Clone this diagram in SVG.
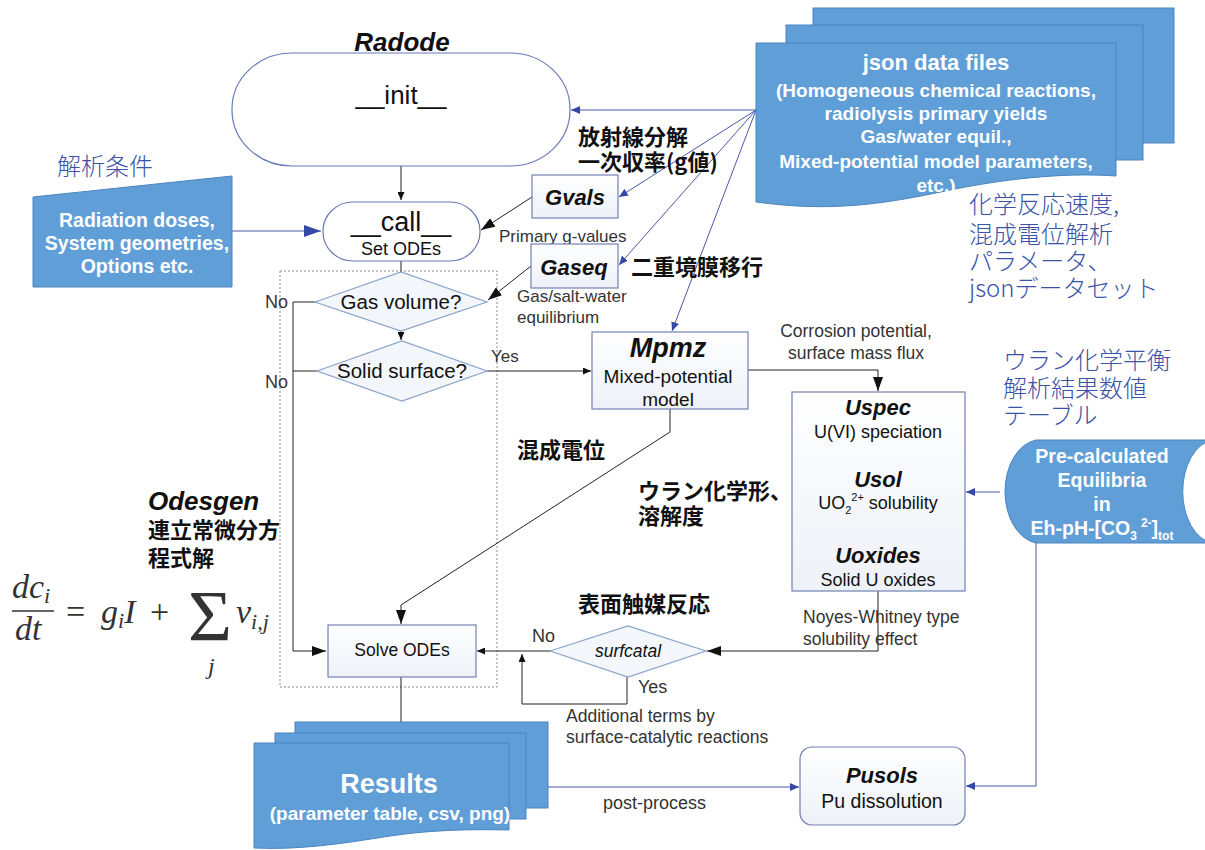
<svg xmlns="http://www.w3.org/2000/svg" width="1205" height="850" viewBox="0 0 1205 850">
<defs>
<linearGradient id="boxFill" x1="0" y1="0" x2="0" y2="1">
<stop offset="0" stop-color="#ffffff"/><stop offset="1" stop-color="#eef1f7"/>
</linearGradient>
<marker id="bigBlack" viewBox="0 0 14 10" refX="14" refY="5" markerWidth="14" markerHeight="10" markerUnits="userSpaceOnUse" orient="auto"><path d="M0,0 L14,5 L0,10 Z" fill="#111"/></marker>
<marker id="smallBlack" viewBox="0 0 8 7" refX="8" refY="3.5" markerWidth="8" markerHeight="7" markerUnits="userSpaceOnUse" orient="auto"><path d="M0,0 L8,3.5 L0,7 Z" fill="#111"/></marker>
<marker id="blueSmall" viewBox="0 0 9 8" refX="9" refY="4" markerWidth="9" markerHeight="8" markerUnits="userSpaceOnUse" orient="auto"><path d="M0,0 L9,4 L0,8 Z" fill="#3548a8"/></marker>
<marker id="blueBig" viewBox="0 0 17 12" refX="17" refY="6" markerWidth="17" markerHeight="12" markerUnits="userSpaceOnUse" orient="auto"><path d="M0,0 L17,6 L0,12 Z" fill="#3548a8"/></marker>
<style>
.sans{font-family:'Liberation Sans',Arial,sans-serif;}
.jblue{font-family:'Noto Sans CJK JP',sans-serif;fill:#3a52a8;font-size:24px;font-weight:300;}
.jblack{font-family:'Noto Sans CJK JP',sans-serif;fill:#111;font-size:22px;font-weight:700;}
.box{fill:url(#boxFill);stroke:#7481b6;stroke-width:1.2;}
.term{fill:#fff;stroke:#6a7ab8;stroke-width:1.2;}
.dia{fill:#f3f6fa;stroke:#8aa3cc;stroke-width:1.2;}
.blueshape{fill:#5f9ed7;stroke:#4a84bf;stroke-width:1;}
.wt{font-family:'Liberation Sans',Arial,sans-serif;fill:#fff;font-weight:700;text-anchor:middle;}
.lbl{font-family:'Liberation Sans',Arial,sans-serif;fill:#333;}
.bi{font-family:'Liberation Sans',Arial,sans-serif;font-weight:700;font-style:italic;fill:#111;text-anchor:middle;}
.mid{text-anchor:middle;}
.k{fill:none;stroke:#222;stroke-width:1;}
.b{fill:none;stroke:#4a59a8;stroke-width:1;}
</style>
</defs>
<rect width="1205" height="850" fill="#fff"/>

<rect id="odesgen-frame" x="280" y="271" width="217" height="416" fill="none" stroke="#888" stroke-width="1" stroke-dasharray="2,2"/>

<g id="connectors">
<path class="k" d="M401,166 V200" marker-end="url(#smallBlack)"/>
<path class="b" d="M232,231 H321" marker-end="url(#blueBig)"/>
<path class="b" d="M756,110 H571" marker-end="url(#blueSmall)"/>
<path class="b" d="M756,110 L619,197" marker-end="url(#blueSmall)"/>
<path class="b" d="M756,110 L619,265" marker-end="url(#blueSmall)"/>
<path class="b" d="M756,110 L672,331" marker-end="url(#blueSmall)"/>
<path class="k" d="M532,197 L481,230" marker-end="url(#bigBlack)"/>
<path class="k" d="M531,266 L488,300" marker-end="url(#bigBlack)"/>
<path class="k" d="M401,261 V272"/>
<path class="k" d="M401,331 V340" marker-end="url(#smallBlack)"/>
<path class="k" d="M315,302 H293 V651 H326" stroke-width="1.5" marker-end="url(#bigBlack)"/>
<path class="k" d="M317,371 H293"/>
<path class="k" d="M487,371 H591" marker-end="url(#smallBlack)"/>
<path class="k" d="M748,370 H878 V391" marker-end="url(#bigBlack)"/>
<path class="k" d="M670,409 V432 L401,605 V624" marker-end="url(#bigBlack)"/>
<path class="b" d="M1000,492 H966" marker-end="url(#blueSmall)"/>
<path class="b" d="M1036,543 V786 H966" marker-end="url(#blueSmall)"/>
<path class="k" d="M878,591 V651 H707" marker-end="url(#bigBlack)"/>
<path class="k" d="M550,651 H477" marker-end="url(#smallBlack)"/>
<path class="k" d="M627,677 V704 H522 V654" marker-end="url(#smallBlack)"/>
<path class="k" d="M401,677 V722"/>
<path class="b" d="M548,787 H799" marker-end="url(#blueSmall)"/>
</g>

<g id="init">
<text class="bi" x="402" y="51" font-size="26">Radode</text>
<rect class="term" x="232" y="53" width="338" height="113" rx="60" ry="56"/>
<text class="sans mid" x="401" y="104" font-size="26" fill="#111">__init__</text>
</g>

<g id="call">
<rect class="term" x="323" y="202" width="157" height="59" rx="30" ry="29"/>
<text class="sans mid" x="401" y="231" font-size="27" fill="#111">__call__</text>
<text class="sans mid" x="401" y="255" font-size="18" fill="#111">Set ODEs</text>
</g>

<g id="conditions">
<text class="jblue" x="57" y="175" font-size="26">解析条件</text>
<polygon class="blueshape" points="33,197 232,176 232,287 33,287"/>
<text class="wt" x="137" y="227" font-size="19.5">Radiation doses,</text>
<text class="wt" x="137" y="250" font-size="19.5">System geometries,</text>
<text class="wt" x="137" y="273" font-size="19.5">Options etc.</text>
</g>

<g id="json">
<rect class="blueshape" x="813" y="8" width="361" height="135"/>
<rect class="blueshape" x="786" y="25" width="357" height="135"/>
<path class="blueshape" d="M756,43 H1116 V176 C1060,172 1000,180 950,190 C880,205 830,212 756,202 Z"/>
<text class="wt" x="936" y="70" font-size="22">json data files</text>
<text class="wt" x="936" y="97" font-size="19">(Homogeneous chemical reactions,</text>
<text class="wt" x="936" y="120" font-size="19">radiolysis primary yields</text>
<text class="wt" x="936" y="143" font-size="19">Gas/water equil.,</text>
<text class="wt" x="936" y="168" font-size="19">Mixed-potential model parameters,</text>
<text class="wt" x="936" y="192" font-size="19">etc.)</text>
<text class="jblue" x="969" y="213">化学反応速度,</text>
<text class="jblue" x="969" y="243">混成電位解析</text>
<text class="jblue" x="969" y="270">パラメータ、</text>
<text class="jblue" x="969" y="297">jsonデータセット</text>
</g>

<g id="gvals">
<rect class="box" x="532" y="175" width="86" height="43"/>
<text class="bi" x="575" y="205" font-size="22">Gvals</text>
<text class="jblack" x="578" y="145">放射線分解</text>
<text class="jblack" x="578" y="170">一次収率(g値)</text>
<text class="lbl" x="499" y="242" font-size="17">Primary g-values</text>
</g>

<g id="gaseq">
<rect class="box" x="531" y="244" width="87" height="44"/>
<text class="bi" x="574" y="275" font-size="22">Gaseq</text>
<text class="jblack" x="631" y="275">二重境膜移行</text>
<text class="lbl" x="517" y="302" font-size="17">Gas/salt-water</text>
<text class="lbl" x="517" y="323" font-size="17">equilibrium</text>
</g>

<g id="gasvolume">
<polygon class="dia" points="315,302 401,272 487,302 401,331"/>
<text class="sans mid" x="401" y="309" font-size="20.5" fill="#111">Gas volume?</text>
<text class="lbl" x="265" y="308" font-size="18">No</text>
</g>

<g id="solidsurface">
<polygon class="dia" points="317,371 402,341 487,371 402,401"/>
<text class="sans mid" x="402" y="378" font-size="20.5" fill="#111">Solid surface?</text>
<text class="lbl" x="265" y="388" font-size="18">No</text>
<text class="lbl" x="491" y="362" font-size="17">Yes</text>
</g>

<g id="mpmz">
<rect class="box" x="592" y="332" width="156" height="77"/>
<text class="bi" x="668" y="357" font-size="27">Mpmz</text>
<text class="sans mid" x="668" y="383" font-size="19" fill="#111">Mixed-potential</text>
<text class="sans mid" x="668" y="406" font-size="19" fill="#111">model</text>
<text class="lbl mid" x="856" y="337" font-size="17.5">Corrosion potential,</text>
<text class="lbl mid" x="856" y="359" font-size="17.5">surface mass flux</text>
<text class="jblack" x="517" y="458" font-weight="500">混成電位</text>
</g>

<g id="uspec">
<rect class="box" x="792" y="392" width="173" height="199"/>
<text class="bi" x="878" y="415" font-size="22">Uspec</text>
<text class="sans mid" x="878" y="438" font-size="18" fill="#111">U(VI) speciation</text>
<text class="bi" x="878" y="487" font-size="22">Usol</text>
<text class="sans mid" x="878" y="509" font-size="18" fill="#111">UO<tspan font-size="11" dy="5">2</tspan><tspan font-size="11" dy="-13">2+</tspan><tspan dy="8"> solubility</tspan></text>
<text class="bi" x="878" y="563" font-size="22">Uoxides</text>
<text class="sans mid" x="878" y="586" font-size="18" fill="#111">Solid U oxides</text>
<text class="jblack" x="638" y="499" font-weight="500">ウラン化学形、</text>
<text class="jblack" x="638" y="524" font-weight="500">溶解度</text>
<text class="lbl" x="803" y="623" font-size="17.5">Noyes-Whitney type</text>
<text class="lbl" x="803" y="645" font-size="17.5">solubility effect</text>
</g>

<g id="precalc">
<text class="jblue" x="1003" y="369">ウラン化学平衡</text>
<text class="jblue" x="1003" y="397">解析結果数値</text>
<text class="jblue" x="1003" y="424">テーブル</text>
<path class="blueshape" d="M1036,440 H1212 A34,52 0 0,0 1212,543 H1036 A36,52 0 0,1 1036,440 Z"/>
<text class="wt" x="1102" y="463" font-size="19.5">Pre-calculated</text>
<text class="wt" x="1102" y="487" font-size="19.5">Equilibria</text>
<text class="wt" x="1102" y="511" font-size="19.5">in</text>
<text class="wt" x="1102" y="535" font-size="19.5">Eh-pH-[CO<tspan font-size="12" dy="5">3</tspan><tspan font-size="12" dx="4" dy="-13">2-</tspan><tspan dy="8">]</tspan><tspan font-size="12" dy="5">tot</tspan></text>
</g>

<g id="odesgen">
<text x="148" y="510" font-size="26" font-family="'Liberation Sans',Arial,sans-serif" font-weight="700" font-style="italic" fill="#111">Odesgen</text>
<text class="jblack" x="148" y="538">連立常微分方</text>
<text class="jblack" x="148" y="566">程式解</text>
</g>

<g id="formula" font-family="'Liberation Serif','DejaVu Serif',serif" fill="#333">
<text x="12" y="598" font-size="34" font-style="italic">dc<tspan font-size="22" dy="5">i</tspan></text>
<line x1="12" y1="611" x2="54" y2="611" stroke="#333" stroke-width="1.3"/>
<text x="15" y="640" font-size="34" font-style="italic">dt</text>
<text x="66" y="623" font-size="34">=</text>
<text x="101" y="623" font-size="34" font-style="italic">g<tspan font-size="22" dy="5">i</tspan><tspan dy="-5">I</tspan></text>
<text x="150" y="623" font-size="34">+</text>
<text x="188" y="640" font-size="72" textLength="44" lengthAdjust="spacingAndGlyphs">Σ</text>
<text x="208" y="674" font-size="24" font-style="italic">j</text>
<text x="236" y="623" font-size="34" font-style="italic">v<tspan font-size="22" dy="6">i,j</tspan></text>
</g>

<g id="solve">
<rect class="box" x="328" y="625" width="148" height="52"/>
<text class="sans mid" x="402" y="656" font-size="17.5" fill="#111">Solve ODEs</text>
</g>

<g id="surfcatal">
<text class="jblack" x="578" y="612">表面触媒反応</text>
<polygon class="dia" points="550,651 628,626 706,651 628,677"/>
<text class="sans mid" x="628" y="657" font-size="17.5" font-style="italic" fill="#111">surfcatal</text>
<text class="lbl" x="532" y="642" font-size="18">No</text>
<text class="lbl" x="638" y="693" font-size="18">Yes</text>
<text class="lbl" x="566" y="722" font-size="17.5">Additional terms by</text>
<text class="lbl" x="566" y="743" font-size="17.5">surface-catalytic reactions</text>
</g>

<g id="results">
<rect class="blueshape" x="295" y="722" width="253" height="86"/>
<rect class="blueshape" x="275" y="733" width="251" height="86"/>
<path class="blueshape" d="M254,743 H509 V830 C470,829 430,830 390,836 C340,844 300,850 254,848 Z"/>
<text class="wt" x="389" y="793" font-size="27">Results</text>
<text class="wt" x="390" y="820" font-size="19">(parameter table, csv, png)</text>
<text class="lbl" x="603" y="809" font-size="18">post-process</text>
</g>

<g id="pusols">
<rect class="box" x="800" y="747" width="165" height="78" rx="12"/>
<text class="bi" x="882" y="783" font-size="22">Pusols</text>
<text class="sans mid" x="882" y="808" font-size="19.5" fill="#111">Pu dissolution</text>
</g>
</svg>
